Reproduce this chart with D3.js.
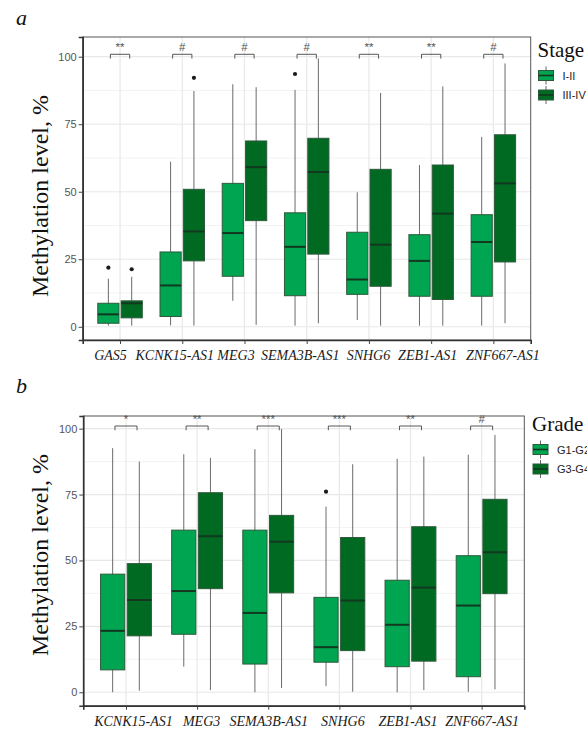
<!DOCTYPE html>
<html>
<head>
<meta charset="utf-8">
<script src="https://cdn.jsdelivr.net/npm/d3@7"></script>
<style>
  html, body { margin: 0; padding: 0; background: #fff; }
  svg { display: block; }
</style>
</head>
<body>
<svg id="chart" width="587" height="729"></svg>
<script>
// ---- Panel a: methylation by tumour stage ----
const stageGenes = ["GAS5", "KCNK15-AS1", "MEG3", "SEMA3B-AS1", "SNHG6", "ZEB1-AS1", "ZNF667-AS1"];
const stageGroups = ["I-II", "III-IV"];
// each entry: [lower whisker, Q1, median, Q3, upper whisker]
const stageEarly = [
  [0.4, 1.3, 4.6, 8.7, 17.8],
  [0.5, 3.8, 15.3, 27.7, 61.1],
  [9.6, 18.7, 34.7, 53.1, 89.8],
  [0.4, 11.5, 29.6, 42.2, 87.7],
  [2.5, 12.0, 17.5, 35.0, 49.8],
  [0.4, 11.3, 24.4, 34.1, 59.9],
  [0.4, 11.3, 31.4, 41.5, 70.3]
];
const stageLate = [
  [0.4, 3.3, 8.7, 9.6, 18.5],
  [0.4, 24.4, 35.3, 50.9, 87.3],
  [0.7, 39.3, 59.1, 68.8, 88.7],
  [1.3, 26.9, 57.3, 69.8, 99.4],
  [0.4, 15.0, 30.4, 58.3, 86.6],
  [0.4, 10.1, 41.9, 59.9, 89.0],
  [1.3, 24.0, 53.1, 71.1, 97.5]
];
// outliers: [gene index, group index, value]
const stageOutliers = [[0, 0, 21.9], [0, 1, 21.3], [1, 1, 92.2], [3, 0, 93.6]];
const stageSignif = ["**", "#", "#", "#", "**", "**", "#"];

// ---- Panel b: methylation by tumour grade ----
const gradeGenes = ["KCNK15-AS1", "MEG3", "SEMA3B-AS1", "SNHG6", "ZEB1-AS1", "ZNF667-AS1"];
const gradeGroups = ["G1-G2", "G3-G4"];
const gradeLow = [
  [0.0, 8.5, 23.3, 44.8, 92.6],
  [9.7, 22.0, 38.4, 61.5, 90.3],
  [0.0, 10.7, 30.1, 61.5, 92.2],
  [2.3, 11.4, 17.1, 36.0, 70.4],
  [0.0, 9.7, 25.6, 42.5, 88.6],
  [0.2, 5.9, 32.9, 51.8, 90.1]
];
const gradeHigh = [
  [0.6, 21.4, 35.0, 48.8, 87.5],
  [0.8, 39.3, 59.2, 75.7, 88.9],
  [1.6, 37.7, 57.1, 67.1, 99.9],
  [0.2, 15.8, 34.8, 58.7, 86.5],
  [0.8, 11.8, 39.7, 62.8, 89.4],
  [1.1, 37.4, 53.1, 73.2, 97.6]
];
const gradeOutliers = [[3, 0, 76.1]];
const gradeSignif = ["*", "**", "***", "***", "**", "#"];

const yTicks = [0, 25, 50, 75, 100];
const yMinor = [12.5, 37.5, 62.5, 87.5];
const groupColors = ["#00a551", "#006a23"];

const SERIF = "'Liberation Serif', 'Times New Roman', serif";
const SANS = "'Liberation Sans', Arial, sans-serif";

const svg = d3.select("#chart");

function drawPanel(opt) {
  const g = svg.append("g");
  const x = d3.scalePoint().domain(opt.genes).range([opt.left, opt.right]).padding(0.6);
  const y = d3.scaleLinear().domain(opt.yDomain).range([opt.bottom, opt.top]);
  const step = x.step();
  const boxW = step * 0.34;
  const dodge = step * 0.1875;
  const bw = step * 0.155;

  // grid
  const grid = g.append("g");
  grid.selectAll(".minor").data(yMinor).join("line")
    .attr("x1", opt.left).attr("x2", opt.right)
    .attr("y1", d => y(d)).attr("y2", d => y(d))
    .attr("stroke", "#f3f3f3").attr("stroke-width", 1);
  grid.selectAll(".major").data(yTicks).join("line")
    .attr("x1", opt.left).attr("x2", opt.right)
    .attr("y1", d => y(d)).attr("y2", d => y(d))
    .attr("stroke", "#e8e8e8").attr("stroke-width", 1.2);
  grid.selectAll(".vmajor").data(opt.genes).join("line")
    .attr("x1", d => x(d)).attr("x2", d => x(d))
    .attr("y1", opt.top).attr("y2", opt.bottom)
    .attr("stroke", "#e8e8e8").attr("stroke-width", 1.2);

  // boxes
  const series = [opt.low, opt.high];
  series.forEach((vals, gi) => {
    const off = gi === 0 ? -dodge : dodge;
    const bg = g.append("g");
    bg.selectAll("line.whisker").data(vals).join("line")
      .attr("class", "whisker")
      .attr("x1", (d, i) => x(opt.genes[i]) + off)
      .attr("x2", (d, i) => x(opt.genes[i]) + off)
      .attr("y1", d => y(d[0])).attr("y2", d => y(d[4]))
      .attr("stroke", "#5a5a5a").attr("stroke-width", 0.9);
    bg.selectAll("rect").data(vals).join("rect")
      .attr("x", (d, i) => x(opt.genes[i]) + off - boxW / 2)
      .attr("width", boxW)
      .attr("y", d => y(d[3]))
      .attr("height", d => y(d[1]) - y(d[3]))
      .attr("fill", groupColors[gi])
      .attr("stroke", "#2d5a3a").attr("stroke-width", 1);
    bg.selectAll("line.median").data(vals).join("line")
      .attr("class", "median")
      .attr("x1", (d, i) => x(opt.genes[i]) + off - boxW / 2)
      .attr("x2", (d, i) => x(opt.genes[i]) + off + boxW / 2)
      .attr("y1", d => y(d[2])).attr("y2", d => y(d[2]))
      .attr("stroke", "#123820").attr("stroke-width", 2);
  });

  g.selectAll("circle.out").data(opt.outliers).join("circle")
    .attr("cx", d => x(opt.genes[d[0]]) + (d[1] === 0 ? -dodge : dodge))
    .attr("cy", d => y(d[2]))
    .attr("r", 2.1)
    .attr("fill", "#1a1a1a");

  // significance brackets
  const br = g.append("g");
  opt.genes.forEach((gene, i) => {
    const cx = x(gene);
    const yl = y(opt.bracketY);
    const yt = y(opt.bracketY - 1.6);
    br.append("path")
      .attr("d", `M${cx - bw},${yt}V${yl}H${cx + bw}V${yt}`)
      .attr("fill", "none").attr("stroke", "#444").attr("stroke-width", 0.9);
    br.append("text")
      .attr("x", cx).attr("y", yl - 3)
      .attr("text-anchor", "middle")
      .attr("font-family", SANS).attr("font-size", 11.5)
      .attr("fill", "#555")
      .text(opt.signif[i]);
  });

  // panel border
  g.append("rect")
    .attr("x", opt.left).attr("y", opt.top)
    .attr("width", opt.right - opt.left).attr("height", opt.bottom - opt.top)
    .attr("fill", "none").attr("stroke", "#555").attr("stroke-width", 1);

  // axes
  const yAxis = g.append("g")
    .attr("transform", `translate(${opt.left},0)`)
    .call(d3.axisLeft(y).tickValues(yTicks).tickSize(4).tickPadding(2));
  yAxis.select(".domain").attr("stroke", "#333").attr("stroke-width", 1.6);
  yAxis.selectAll(".tick line").attr("stroke", "#444");
  yAxis.selectAll(".tick text")
    .attr("font-family", SANS).attr("font-size", 11).attr("fill", "#555");

  const xAxis = g.append("g")
    .attr("transform", `translate(0,${opt.bottom})`)
    .call(d3.axisBottom(x).tickSize(4).tickPadding(6));
  xAxis.select(".domain").attr("stroke", "#333").attr("stroke-width", 1.6);
  xAxis.selectAll(".tick line").attr("stroke", "#444");
  xAxis.selectAll(".tick text")
    .attr("font-family", SERIF).attr("font-style", "italic")
    .attr("font-size", 14).attr("fill", "#1a1a1a")
    .attr("dx", (d, i) => opt.labelShift[i]);

  // y-axis title
  g.append("text")
    .attr("transform", `translate(${opt.titleX},${opt.titleY}) rotate(-90)`)
    .attr("text-anchor", "middle")
    .attr("font-family", SERIF).attr("font-size", 24).attr("fill", "#111")
    .text("Methylation level, %");

  // panel letter
  g.append("text")
    .attr("x", 16).attr("y", opt.letterY)
    .attr("font-family", SERIF).attr("font-style", "italic")
    .attr("font-size", 22).attr("fill", "#111")
    .text(opt.letter);

  // legend
  const lg = g.append("g").attr("transform", `translate(${opt.legendX},${opt.legendY})`);
  lg.append("text")
    .attr("x", 0).attr("y", 0)
    .attr("font-family", SERIF).attr("font-size", 21).attr("fill", "#111")
    .text(opt.legendTitle);
  opt.groups.forEach((name, gi) => {
    const ky = 14 + gi * 19.5;
    const kx = 1;
    const kw = 15, kh = 10;
    lg.append("line")
      .attr("x1", kx + kw / 2).attr("x2", kx + kw / 2)
      .attr("y1", ky - 4).attr("y2", ky + kh + 4)
      .attr("stroke", "#555").attr("stroke-width", 0.9);
    lg.append("rect")
      .attr("x", kx).attr("y", ky).attr("width", kw).attr("height", kh)
      .attr("fill", groupColors[gi]).attr("stroke", "#2d5a3a").attr("stroke-width", 1);
    lg.append("line")
      .attr("x1", kx).attr("x2", kx + kw)
      .attr("y1", ky + kh / 2).attr("y2", ky + kh / 2)
      .attr("stroke", "#123820").attr("stroke-width", 1.6);
    lg.append("text")
      .attr("x", kx + kw + 9).attr("y", ky + kh / 2 + 4)
      .attr("font-family", SANS).attr("font-size", 11).attr("fill", "#222")
      .text(name);
  });
}

drawPanel({
  genes: stageGenes, groups: stageGroups, low: stageEarly, high: stageLate,
  outliers: stageOutliers, signif: stageSignif,
  left: 82.7, right: 530.7, top: 37, bottom: 340,
  yDomain: [-4.9, 107.3], bracketY: 100.9,
  labelShift: [-10, -8, -9, -7, -1, -4, 9],
  titleX: 48, titleY: 196, letter: "a", letterY: 25,
  legendTitle: "Stage", legendX: 537.5, legendY: 56.5
});

drawPanel({
  genes: gradeGenes, groups: gradeGroups, low: gradeLow, high: gradeHigh,
  outliers: gradeOutliers, signif: gradeSignif,
  left: 83.3, right: 524.3, top: 416, bottom: 705.7,
  yDomain: [-5.1, 104.8], bracketY: 101,
  labelShift: [7, 4, 0, 3, -3, 0],
  titleX: 48, titleY: 555, letter: "b", letterY: 393,
  legendTitle: "Grade", legendX: 532, legendY: 430.5
});
</script>
</body>
</html>
